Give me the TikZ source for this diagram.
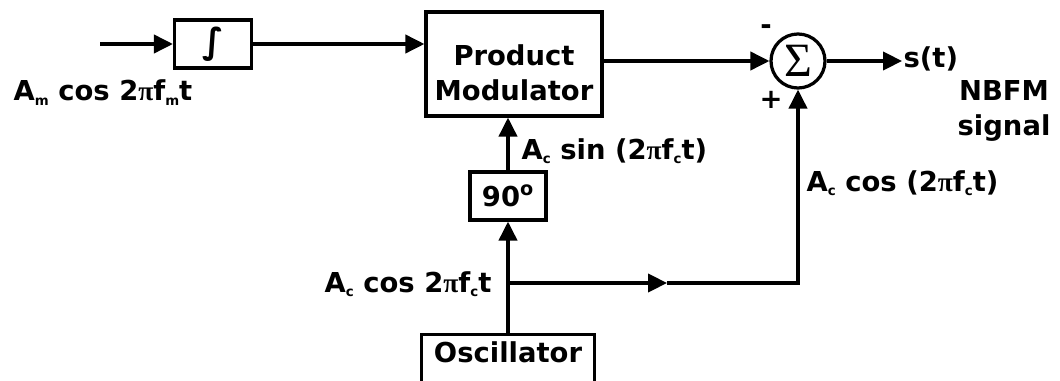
\documentclass[tikz,border=0pt]{standalone}
\usepackage{fontspec}
\setmainfont{DejaVu Sans}
\newfontfamily\pifont{Liberation Serif}
\usetikzlibrary{arrows.meta,positioning}
\newcommand{\lsub}[1]{\raisebox{-0.3ex}{\fontsize{9.5}{9.5}\selectfont #1}}
\newcommand{\mypi}{{\pifont\bfseries π}}

\begin{document}
\begin{tikzpicture}[x=0.025cm, y=-0.025cm, line width=2.3pt,
  blk/.style={draw, line width=2.3pt, inner sep=0pt, font=\fontsize{19.5}{24.5}\selectfont\bfseries},
  lbl/.style={inner sep=0pt, font=\fontsize{19.5}{24.5}\selectfont\bfseries},
  sig/.style={-{Triangle[length=13.5pt,width=13pt]}}]
  \clip (0,0) rectangle (1060,381);
  % blocks
  \node[blk, minimum width=1.925cm, minimum height=1.2cm, font=\fontsize{25}{25}\selectfont\bfseries] (integ) at (213,44) {∫};
  \node[blk, minimum width=4.4cm, minimum height=2.6cm] (pm) at (514,64) {};
  \node[lbl, align=center] (pmtext) at (514,73) {Product\\Modulator};
  \node[draw, circle, line width=2.3pt, minimum size=1.35cm, inner sep=0pt, font=\pifont\fontsize{34}{34}\selectfont] (sum) at (798,61) {Σ};
  \node[blk, minimum width=1.9cm, minimum height=1.2cm] (shift) at (508,196) {90\textsuperscript{o}};
  \node[blk, anchor=north, minimum width=4.325cm, text height=0.7cm, text depth=0.775cm] (osc) at (508,333) {Oscillator};
  % labels
  \node[lbl, anchor=base west] (msg) at (12,101) {A\lsub{m} cos 2\mypi f\lsub{m}t};
  \node[lbl, anchor=base west] (sinlbl) at (520,159) {A\lsub{c} sin (2\mypi f\lsub{c}t)};
  \node[lbl, anchor=base west] (coslbl) at (805,191) {A\lsub{c} cos (2\mypi f\lsub{c}t)};
  \node[lbl, anchor=base east] (carlbl) at (493,292) {A\lsub{c} cos 2\mypi f\lsub{c}t};
  \node[lbl, anchor=base west] (st) at (902,68) {s(t)};
  \node[lbl, align=center, anchor=base] (nbfm) at (1004,135) {NBFM\\signal};
  \node[lbl] (minus) at (766,30) {-};
  \node[lbl] (plus) at (771,100) {+};
  % connectors
  \coordinate (in) at (100,44);
  \coordinate (jn) at (508,283);
  \coordinate (mid) at (667,283);
  \coordinate (cr) at (sum.south |- jn);
  \draw[sig] (in) -- (integ.west);
  \draw[sig] (integ.east) -- (pm.west |- integ.east);
  \draw[sig] (pm.east |- sum.west) -- (sum.west);
  \draw[sig] (sum.east) -- (st.west |- sum.east);
  \draw[sig] (osc.north) -- (shift.south);
  \draw[sig] (shift.north) -- (pm.south -| shift.north);
  \draw[sig] (jn) -- (mid);
  \draw[sig] (mid) -- (cr) -- (sum.south);
\end{tikzpicture}
\end{document}
